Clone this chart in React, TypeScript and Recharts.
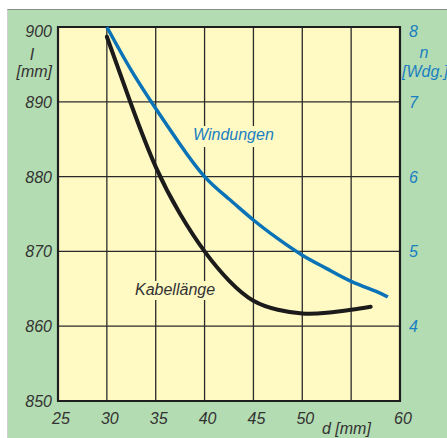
import { LineChart, Line, XAxis, YAxis, CartesianGrid, ReferenceArea } from "recharts";

// d [mm] vs cable length I [mm] and number of turns n
const cableD = [30, 32.5, 35, 37.5, 40, 42.5, 45, 47.5, 50, 52.5, 55, 57];
const cableLength = [898.7, 889.6, 881.3, 875.0, 870.0, 866.1, 863.4, 862.2, 861.7, 861.8, 862.2, 862.6];
const turnsD = [30, 32.5, 35, 37.5, 40, 42.5, 45, 47.5, 50, 52.5, 55, 57.5, 58.75];
const turns = [8.0, 7.42, 6.91, 6.43, 6.0, 5.7, 5.42, 5.17, 4.95, 4.77, 4.6, 4.47, 4.39];

const dTicks = [25, 30, 35, 40, 45, 50, 55, 60];
const dHiddenLabels = [55];
const lengthTicks = [850, 860, 870, 880, 890, 900];
const turnTicks = [4, 5, 6, 7, 8];

const cable = cableD.map((d, i) => ({ d, I: cableLength[i] }));
const windings = turnsD.map((d, i) => ({ d, n: turns[i] }));

const GREEN = "#b4dcb2";
const YELLOW = "#fff9c4";
const BLUE = "#0a73b7";
const BLUE_TEXT = "#1a7fc1";
const INK = "#333333";
const FONT = "'Liberation Sans', Arial, sans-serif";

const textProps = { fontFamily: FONT, fontStyle: "italic", fontSize: 16 } as const;

const XTick = (props: any) => {
  const { x, y, payload } = props;
  if (dHiddenLabels.includes(payload.value)) return null;
  return (
    <text x={x + 3} y={y + 23} textAnchor="middle" fill={INK} {...textProps}>
      {payload.value}
    </text>
  );
};

const LeftTick = (props: any) => {
  const { x, y, payload } = props;
  const dy = payload.value === 900 ? 10 : 6;
  return (
    <text x={x - 6} y={y + dy} textAnchor="end" fill={INK} {...textProps}>
      {payload.value}
    </text>
  );
};

const RightTick = (props: any) => {
  const { x, y, payload } = props;
  const dy = payload.value === 8 ? 10 : 6;
  return (
    <text x={x + 9} y={y + dy} textAnchor="start" fill={BLUE_TEXT} {...textProps}>
      {payload.value}
    </text>
  );
};

export default function App() {
  return (
    <div style={{ position: "absolute", left: 0, top: 0, width: 447, height: 438, background: "#fff", overflow: "hidden" }}>
      <div
        style={{
          position: "absolute",
          left: 7,
          top: 9,
          width: 440,
          height: 429,
          background: GREEN,
          borderTop: "1.5px solid #8a8a8a",
          borderLeft: "1px solid #d0d0d0",
          boxSizing: "border-box",
        }}
      />
      <div style={{ position: "absolute", left: 7, top: 10 }}>
        <LineChart width={440} height={428} margin={{ top: 17, right: 0, bottom: 0, left: 0 }}>
          <CartesianGrid yAxisId="l" fill={YELLOW} fillOpacity={1} stroke="#2a2a2a" strokeWidth={1.3} />
          <XAxis
            dataKey="d"
            type="number"
            domain={[25, 60]}
            ticks={dTicks}
            height={37}
            tickSize={0}
            tickMargin={0}
            axisLine={false}
            tickLine={false}
            tick={<XTick />}
            interval={0}
          />
          <YAxis
            yAxisId="l"
            orientation="left"
            type="number"
            domain={[850, 900]}
            ticks={lengthTicks}
            width={51}
            tickSize={0}
            tickMargin={0}
            axisLine={false}
            tickLine={false}
            tick={<LeftTick />}
            interval={0}
          />
          <YAxis
            yAxisId="r"
            orientation="right"
            type="number"
            domain={[3, 8]}
            ticks={turnTicks}
            width={47}
            tickSize={0}
            tickMargin={0}
            axisLine={false}
            tickLine={false}
            tick={<RightTick />}
            interval={0}
          />
          <ReferenceArea
            yAxisId="l"
            x1={25}
            x2={60}
            y1={850}
            y2={900}
            fill="none"
            stroke="#1e1e1e"
            strokeWidth={2.2}
            ifOverflow="visible"
          />
          <Line
            yAxisId="r"
            data={windings}
            dataKey="n"
            type="natural"
            stroke={BLUE}
            strokeWidth={3.5}
            dot={false}
            activeDot={false}
            isAnimationActive={false}
          />
          <Line
            yAxisId="l"
            data={cable}
            dataKey="I"
            type="natural"
            stroke="#1b1b1b"
            strokeWidth={4}
            strokeLinecap="round"
            dot={false}
            activeDot={false}
            isAnimationActive={false}
          />
        </LineChart>
      </div>
      <svg width={447} height={438} style={{ position: "absolute", left: 0, top: 0, pointerEvents: "none" }}>
        <text x={32} y={60} textAnchor="middle" fill={INK} {...textProps}>I</text>
        <text x={52} y={77} textAnchor="end" fill={INK} {...textProps}>[mm]</text>
        <text x={424} y={58} textAnchor="middle" fill={BLUE_TEXT} {...textProps}>n</text>
        <text x={402} y={77} textAnchor="start" fill={BLUE_TEXT} {...textProps}>[Wdg.]</text>
        <text x={322} y={434} textAnchor="start" fill={INK} {...textProps}>d [mm]</text>
        <rect x={132} y={281} width={86} height={19} fill={YELLOW} />
        <text x={135} y={295} fill={INK} {...textProps}>Kabellänge</text>
        <rect x={190} y={126} width={89} height={21} fill={YELLOW} />
        <text x={193} y={140} fill={BLUE_TEXT} {...textProps}>Windungen</text>
      </svg>
    </div>
  );
}
